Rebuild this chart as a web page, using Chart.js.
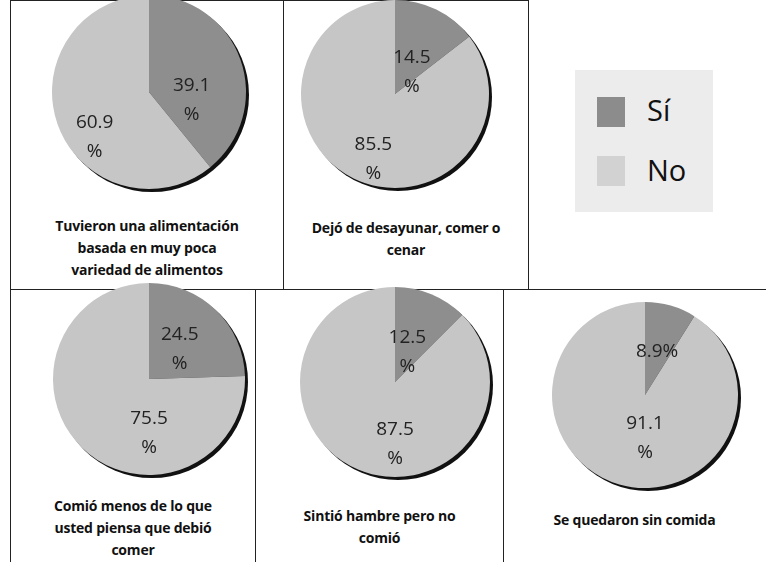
<!DOCTYPE html>
<html><head><meta charset="utf-8">
<script src="https://cdn.jsdelivr.net/npm/chart.js@4"></script>
<style>
body{margin:0;background:#fff;width:766px;height:562px;position:relative;overflow:hidden;font-family:"Open Sans","Liberation Sans",sans-serif;}
.box{position:absolute;border:1px solid #222;box-sizing:border-box;}
.t{position:absolute;text-align:center;font-weight:bold;font-size:14px;line-height:22px;color:#111;letter-spacing:-0.2px}
canvas{position:absolute;}
.leg{position:absolute;left:575px;top:70px;width:138px;height:142px;background:#ececec;}
.sw{position:absolute;left:22px;width:28px;height:30px;}
.lt{position:absolute;left:72px;font-size:29px;color:#111;}
</style></head><body>
<div class="box" style="left:10px;top:0;width:274px;height:290px"></div>
<div class="box" style="left:283px;top:0;width:246px;height:290px"></div>
<div class="box" style="left:10px;top:289px;width:246px;height:290px;border-bottom:none"></div>
<div class="box" style="left:255px;top:289px;width:249px;height:290px;border-bottom:none"></div>
<div class="box" style="left:503px;top:289px;width:270px;height:290px;border-bottom:none"></div>
<div class="leg">
 <div class="sw" style="top:27px;background:#8c8c8c"></div><div class="lt" style="top:20px">Sí</div>
 <div class="sw" style="top:86px;background:#d2d2d2"></div><div class="lt" style="top:80px">No</div>
</div>
<div class="t" style="left:10px;top:215px;width:274px">Tuvieron una alimentación<br>basada en muy poca<br>variedad de alimentos</div>
<div class="t" style="left:283px;top:217px;width:246px">Dejó de desayunar, comer o<br>cenar</div>
<div class="t" style="left:10px;top:495px;width:246px">Comió menos de lo que<br>usted piensa que debió<br>comer</div>
<div class="t" style="left:255px;top:505px;width:249px">Sintió hambre pero no<br>comió</div>
<div class="t" style="left:503px;top:509px;width:263px">Se quedaron sin comida</div>
<canvas id="c0"></canvas><canvas id="c1"></canvas><canvas id="c2"></canvas><canvas id="c3"></canvas><canvas id="c4"></canvas>
<script>
const categories=["Sí","No"];
const titles=["Tuvieron una alimentación basada en muy poca variedad de alimentos","Dejó de desayunar, comer o cenar","Comió menos de lo que usted piensa que debió comer","Sintió hambre pero no comió","Se quedaron sin comida"];
const siValues=[39.1,14.5,24.5,12.5,8.9];
const noValues=[60.9,85.5,75.5,87.5,91.1];
const labelsSi=["39.1\n%","14.5\n%","24.5\n%","12.5\n%","8.9%"];
const labelsNo=["60.9\n%","85.5\n%","75.5\n%","87.5\n%","91.1\n%"];
const pos=[[152,95,97],[398,97,94],[152,382,96],[398,385,95],[648,398,93]];
const anchors=[[[0.44,0.08],[-0.56,0.47]],[[0.18,-0.23],[-0.23,0.69]],[[0.32,-0.31],[0,0.56]],[[0.13,-0.32],[0,0.65]],[[0.13,-0.47],[0,0.46]]];
const shadow={id:'shadow',beforeDatasetsDraw(ch){const a=ch.getDatasetMeta(0).data[0];const c=ch.ctx;c.save();c.beginPath();c.arc(a.x+3,a.y+3,a.outerRadius,0,Math.PI*2);c.fillStyle='#111';c.fill();c.restore();}};
const lbl={id:'lbl',afterDatasetsDraw(ch){const c=ch.ctx;const o=ch.options.plugins.lbl;
 ch.getDatasetMeta(0).data.forEach((a,i)=>{const x=a.x+o.an[i][0]*a.outerRadius,y=a.y+o.an[i][1]*a.outerRadius;
 const lines=o.texts[i].split('\n');c.save();c.fillStyle='#222';c.font='19px "Open Sans","Liberation Sans",sans-serif';c.textAlign='center';c.textBaseline='middle';
 lines.forEach((l,k)=>c.fillText(l,x,y+(k-(lines.length-1)/2)*29));c.restore();});}};
pos.forEach((p,i)=>{const cv=document.getElementById('c'+i);const s=2*p[2]+10;cv.width=s;cv.height=s;cv.style.left=(p[0]-s/2)+'px';cv.style.top=(p[1]-s/2)+'px';
 new Chart(cv,{type:'pie',data:{labels:categories,datasets:[{data:[siValues[i],noValues[i]],backgroundColor:['#8e8e8e','#c6c6c6'],borderWidth:0}]},
 options:{responsive:false,animation:false,layout:{padding:{left:2,top:2,right:8,bottom:8}},plugins:{legend:{display:false},tooltip:{enabled:false},title:{display:false,text:titles[i]},lbl:{texts:[labelsSi[i],labelsNo[i]],an:anchors[i]}}},plugins:[shadow,lbl]});});
</script></body></html>
